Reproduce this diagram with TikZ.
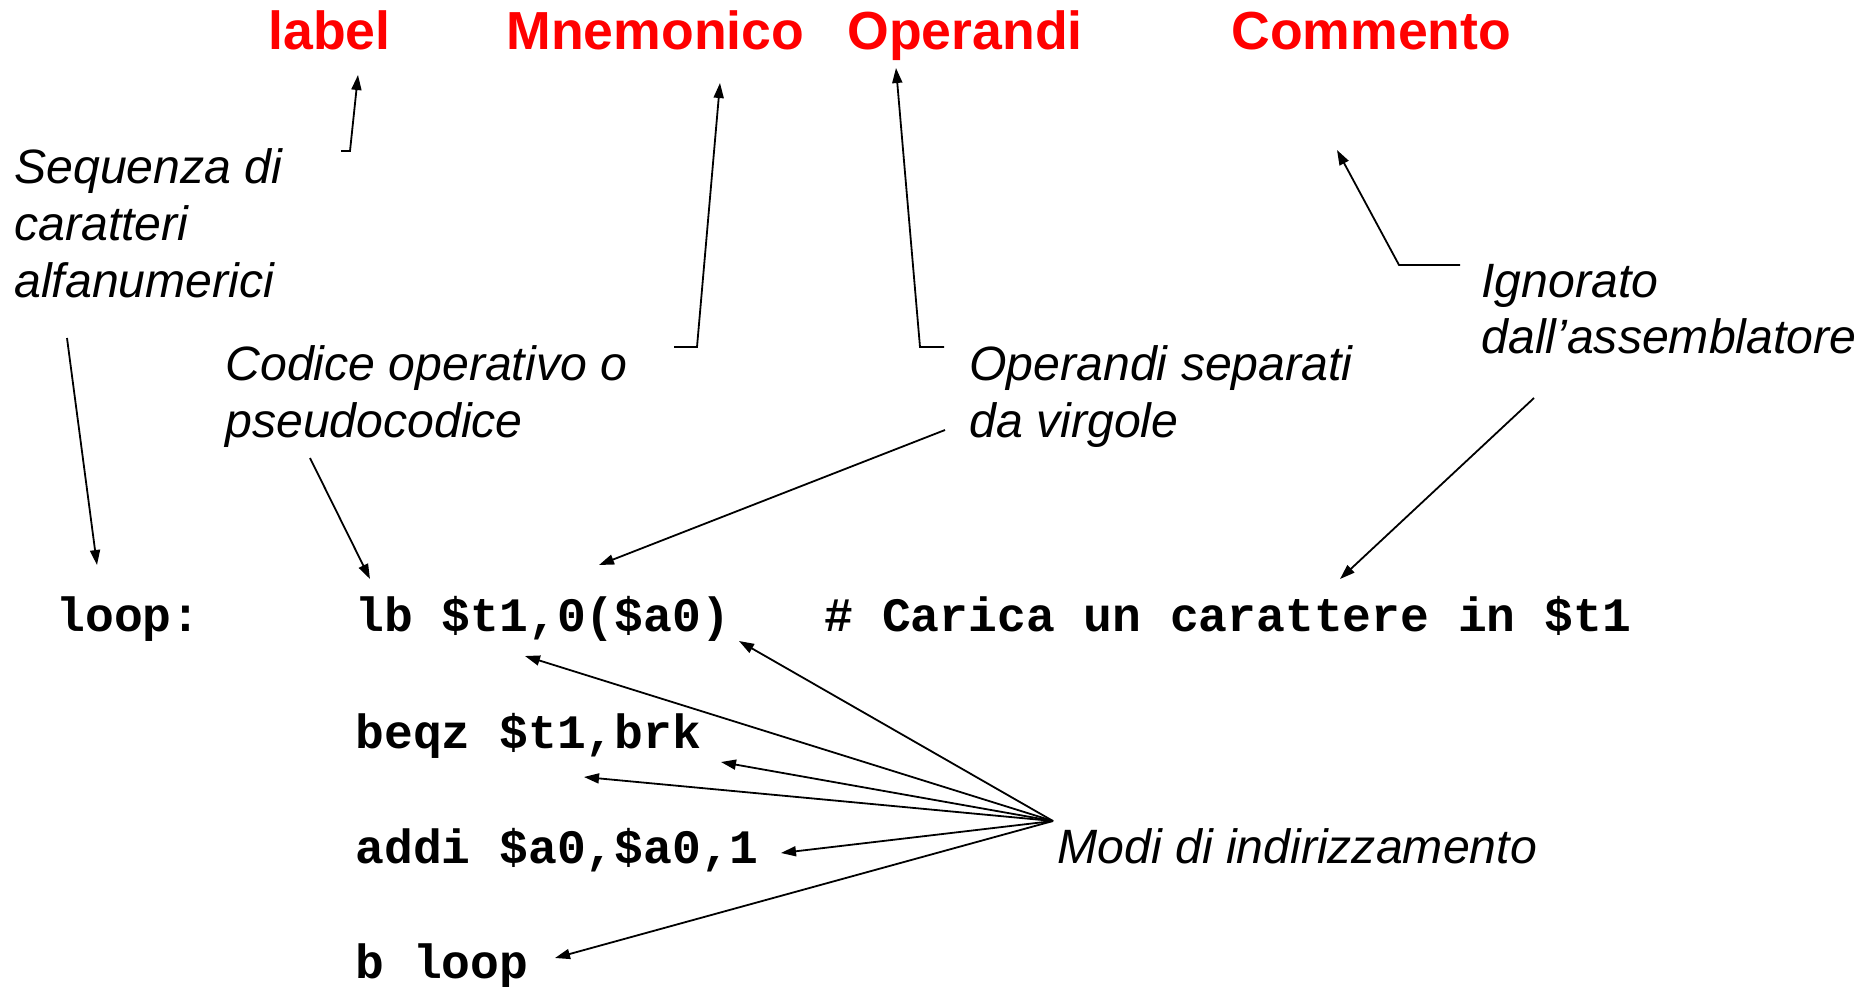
\documentclass[tikz,border=0pt]{standalone}
\usepackage{fontspec}
\setmainfont{Liberation Sans}
\setmonofont{Liberation Mono}
\usetikzlibrary{arrows.meta}
\begin{document}
\begin{tikzpicture}[x=0.5pt,y=-0.5pt,
  hdr/.style={text=red,font=\fontsize{26.8pt}{30pt}\selectfont\bfseries,inner sep=0pt,anchor=base west},
  note/.style={font=\fontsize{24.1pt}{28.5pt}\selectfont\itshape,inner sep=0pt,anchor=base west},
  code/.style={font=\fontsize{24pt}{28pt}\selectfont\ttfamily\bfseries,inner sep=0pt,anchor=base west},
  conn/.style={draw=black,line width=0.9pt,-{Triangle[length=7.5pt,width=5pt]}}]
\useasboundingbox[fill=white] (0,0) rectangle (1870,986);
% headers
\node[hdr] (hlabel) at (268,49) {label};
\node[hdr] (hmnem) at (506,49) {Mnemonico};
\node[hdr] (hoper) at (847,49) {Operandi};
\node[hdr] (hcomm) at (1231,49) {Commento};
% notes
\node[note] (seqA) at (14,183) {Sequenza di};
\node[note] (seqB) at (14,240) {caratteri};
\node[note] (seqC) at (14,297) {alfanumerici};
\node[note] (codA) at (225,380) {Codice operativo o};
\node[note] (codB) at (225,437) {pseudocodice};
\node[note] (opsA) at (969,380) {Operandi separati};
\node[note] (opsB) at (969,437) {da virgole};
\node[note] (ignA) at (1481,297) {Ignorato};
\node[note] (ignB) at (1481,353) {dall’assemblatore};
\node[note] (modi) at (1057,863) {Modi di indirizzamento};
% code
\node[code] (loop) at (56,631) {loop:};
\node[code] (lb) at (355,631) {lb \$t1,0(\$a0)};
\node[code] (cmt) at (824,631) {\# Carica un carattere in \$t1};
\node[code] (beqz) at (355,748) {beqz \$t1,brk};
\node[code] (addi) at (355,863) {addi \$a0,\$a0,1};
\node[code] (bloop) at (355,978) {b loop};
% connector points
\coordinate (l0) at (341,151); \coordinate (l1) at (350,151); \coordinate (lt) at (358,75);
\coordinate (s0) at (67,338); \coordinate (st) at (97,565);
\coordinate (m0) at (674,347); \coordinate (m1) at (697,347); \coordinate (mt) at (720,83);
\coordinate (o0) at (944,347); \coordinate (o1) at (920,347); \coordinate (ot) at (896,68);
\coordinate (c0) at (310,458); \coordinate (ct) at (370,579);
\coordinate (v0) at (945,430); \coordinate (vt) at (599,565);
\coordinate (k0) at (1460,265); \coordinate (k1) at (1399,265); \coordinate (kt) at (1337,150);
\coordinate (i0) at (1534,398); \coordinate (it) at (1340,579);
\coordinate (fan) at (1053,821);
\coordinate (f1) at (739,641); \coordinate (f2) at (525,656);
\coordinate (f3) at (721,762); \coordinate (f4) at (584,777);
\coordinate (f5) at (781,853); \coordinate (f6) at (555,958);
% connectors
\draw[conn] (l0) -- (l1) -- (lt);
\draw[conn] (s0) -- (st);
\draw[conn] (m0) -- (m1) -- (mt);
\draw[conn] (o0) -- (o1) -- (ot);
\draw[conn] (c0) -- (ct);
\draw[conn] (v0) -- (vt);
\draw[conn] (k0) -- (k1) -- (kt);
\draw[conn] (i0) -- (it);
\foreach \t in {f1,f2,f3,f4,f5,f6} \draw[conn] (fan) -- (\t);
\end{tikzpicture}
\end{document}
